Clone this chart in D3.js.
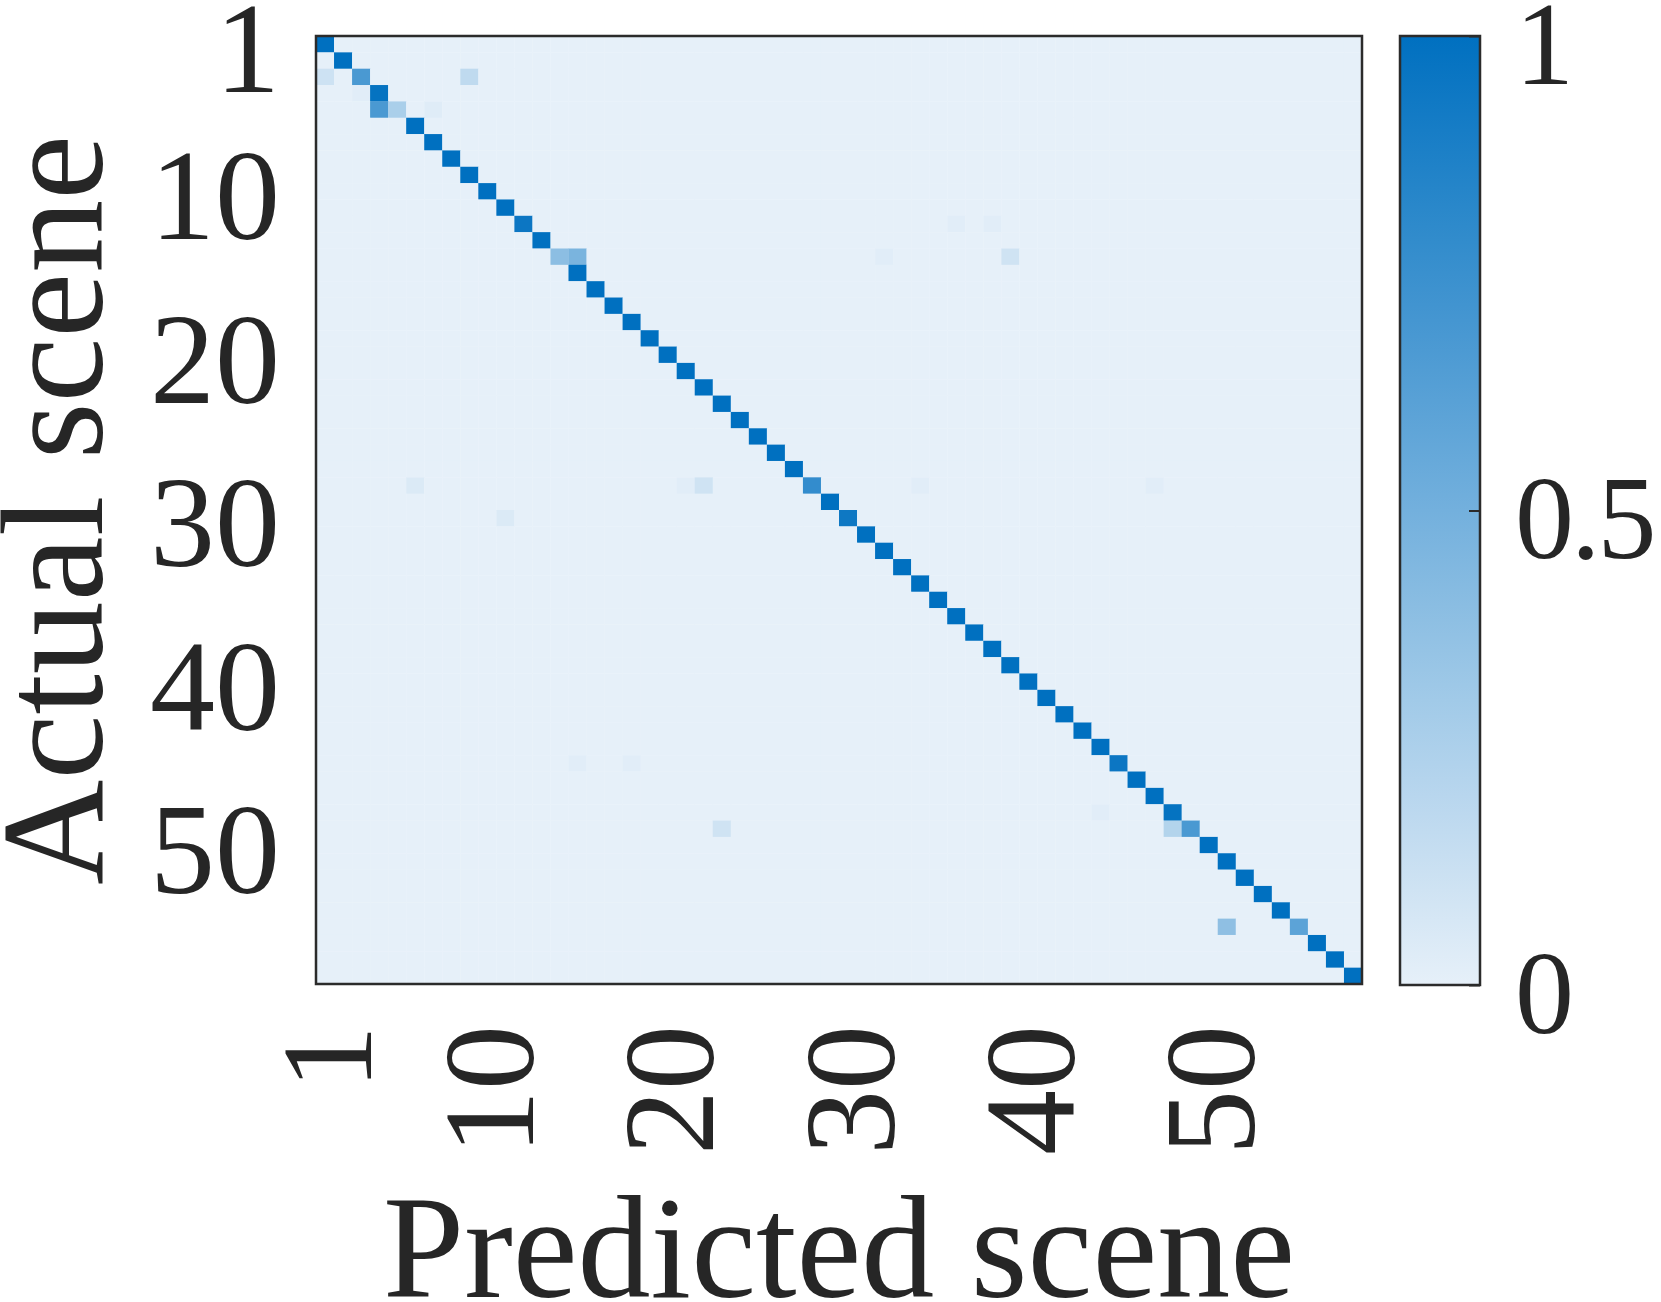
<!DOCTYPE html>
<html>
<head>
<meta charset="utf-8">
<script src="https://cdn.jsdelivr.net/npm/d3@7"></script>
<style>
  body { margin: 0; background: #fff; }
  text { font-family: "Liberation Serif", "Times New Roman", serif; fill: #262626; }
</style>
</head>
<body>
<div id="chart"></div>
<script>
// scenes 1..58, actual (rows) vs predicted (columns)
const sceneCount = 58;
const scenes = d3.range(1, sceneCount + 1);

// share of each actual scene predicted correctly (diagonal)
const diagonal = [
    1, 1, 0.68, 0.98, 0.26, 1, 1, 1, 1, 1,
    1, 0.95, 1, 0.39, 1, 1, 1, 1, 1, 1,
    1, 1, 1, 1, 1, 1, 1, 0.78, 1, 0.94,
    1, 1, 1, 1, 1, 1, 1, 1, 1, 1,
    1, 1, 1, 1, 0.95, 1, 1, 0.98, 0.68, 1,
    1, 1, 1, 1, 0.6, 1, 1, 1
];

// misclassifications: [actual, predicted, share]
const offDiagonal = [
    [3, 1, 0.11], [3, 9, 0.17], [4, 3, 0.02], [5, 4, 0.68], [5, 7, 0.03],
    [12, 36, 0.02], [12, 38, 0.02], [14, 15, 0.47], [14, 32, 0.02], [14, 39, 0.1],
    [28, 6, 0.05], [28, 21, 0.02], [28, 22, 0.1], [28, 34, 0.02], [28, 47, 0.02],
    [30, 11, 0.05], [45, 15, 0.02], [45, 18, 0.02], [48, 44, 0.02],
    [49, 23, 0.1], [49, 48, 0.22], [55, 51, 0.38]
];

const axisTicks = [1, 10, 20, 30, 40, 50];
const colorbarTicks = [0, 0.5, 1];

const width = 1661, height = 1302;
const plot = { left: 316, right: 1362, top: 36, bottom: 984 };
const bar = { left: 1400, right: 1480 };

const svg = d3.select("#chart")
    .append("svg")
    .attr("width", width)
    .attr("height", height);

const x = d3.scaleBand().domain(scenes).range([plot.left, plot.right]);
const y = d3.scaleBand().domain(scenes).range([plot.top, plot.bottom]);
const color = d3.scaleLinear().domain([0, 1]).range(["#e6f0f9", "#0070c0"]);

// build full matrix
const lookup = new Map(offDiagonal.map(d => [d[0] + "-" + d[1], d[2]]));
const cells = [];
scenes.forEach(r => {
    scenes.forEach(c => {
        const v = r === c ? diagonal[r - 1] : (lookup.get(r + "-" + c) || 0);
        cells.push({ r, c, v });
    });
});

svg.append("g")
    .selectAll("rect")
    .data(cells)
    .join("rect")
    .attr("x", d => x(d.c))
    .attr("y", d => y(d.r))
    .attr("width", x.bandwidth() + 0.3)
    .attr("height", y.bandwidth() + 0.3)
    .attr("fill", d => color(d.v));

svg.append("rect")
    .attr("x", plot.left)
    .attr("y", plot.top)
    .attr("width", plot.right - plot.left)
    .attr("height", plot.bottom - plot.top)
    .attr("fill", "none")
    .attr("stroke", "#2b2b2b")
    .attr("stroke-width", 2.5);

// y axis
const yAxis = svg.append("g")
    .attr("transform", `translate(${plot.left},0)`)
    .call(d3.axisLeft(y).tickValues(axisTicks).tickSize(0));
yAxis.select(".domain").remove();
yAxis.selectAll("text")
    .attr("x", -36)
    .attr("dy", "0.37em")
    .style("font-size", "130px")
    .attr("fill", "#262626");

// x axis, labels turned upright
const xAxis = svg.append("g")
    .attr("transform", `translate(0,${plot.bottom})`)
    .call(d3.axisBottom(x).tickValues(axisTicks).tickSize(0));
xAxis.select(".domain").remove();
xAxis.selectAll("text")
    .attr("transform", "rotate(-90)")
    .attr("x", -41)
    .attr("y", 0)
    .attr("dy", "0.35em")
    .style("text-anchor", "end")
    .style("font-size", "130px")
    .attr("fill", "#262626");

// colorbar
const cb = d3.scaleLinear().domain([0, 1]).range([plot.bottom + 1, plot.top]);
const grad = svg.append("defs").append("linearGradient")
    .attr("id", "cbar")
    .attr("x1", 0).attr("y1", 1).attr("x2", 0).attr("y2", 0);
grad.selectAll("stop")
    .data(d3.range(0, 1.0001, 0.1))
    .join("stop")
    .attr("offset", d => d)
    .attr("stop-color", d => color(d));

svg.append("rect")
    .attr("x", bar.left)
    .attr("y", cb(1))
    .attr("width", bar.right - bar.left)
    .attr("height", cb(0) - cb(1))
    .attr("fill", "url(#cbar)")
    .attr("stroke", "#2b2b2b")
    .attr("stroke-width", 2.5);

const cAxis = svg.append("g")
    .attr("transform", `translate(${bar.right},0)`)
    .call(d3.axisRight(cb).tickValues(colorbarTicks).tickSize(-11).tickFormat(d3.format("")));
cAxis.select(".domain").remove();
cAxis.selectAll("line").attr("stroke", "#2b2b2b").attr("stroke-width", 2);
cAxis.selectAll("text")
    .attr("x", 35)
    .attr("dy", "0.4em")
    .style("font-size", "118px")
    .style("letter-spacing", "-3px")
    .attr("fill", "#262626");

// axis titles
svg.append("text")
    .attr("transform", `translate(102,${(plot.top + plot.bottom) / 2}) rotate(-90)`)
    .attr("text-anchor", "middle")
    .style("font-size", "146px")
    .text("Actual scene");

svg.append("text")
    .attr("x", (plot.left + plot.right) / 2)
    .attr("y", 1297)
    .attr("text-anchor", "middle")
    .style("font-size", "146px")
    .text("Predicted scene");
</script>
</body>
</html>
